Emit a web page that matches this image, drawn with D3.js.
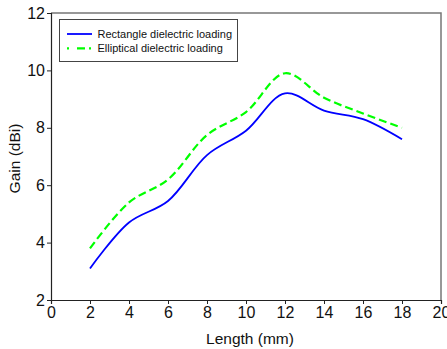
<!DOCTYPE html>
<html>
<head>
<meta charset="utf-8">
<script src="https://cdn.jsdelivr.net/npm/d3@7"></script>
<style>
  body { margin: 0; background: #fff; }
  svg { display: block; font-family: "Liberation Sans", Arial, sans-serif; }
</style>
</head>
<body>
<div id="chart"></div>
<script>
const lengths = [2, 4, 6, 8, 10, 12, 14, 16, 18];
const rectGain = [3.1, 4.7, 5.45, 7.05, 7.9, 9.2, 8.6, 8.3, 7.6];
const ellipGain = [3.8, 5.4, 6.2, 7.75, 8.55, 9.9, 9.05, 8.5, 8.0];
const seriesNames = ["Rectangle dielectric loading", "Elliptical dielectric loading"];
const xTicks = [0, 2, 4, 6, 8, 10, 12, 14, 16, 18, 20];
const yTicks = [2, 4, 6, 8, 10, 12];

const width = 447, height = 349;
const margin = {top: 13, right: 6, bottom: 49, left: 51};

const svg = d3.select("#chart").append("svg")
    .attr("width", width)
    .attr("height", height);

const x = d3.scaleLinear().domain([0, 20]).range([margin.left, width - margin.right]);
const y = d3.scaleLinear().domain([2, 12]).range([height - margin.bottom, margin.top]);

// frame (top + right)
svg.append("path")
    .attr("d", `M${x(0)},${y(12)}H${x(20)}V${y(2)}`)
    .attr("fill", "none")
    .attr("stroke", "#777")
    .attr("stroke-width", 1.5);

// axes
const xAxis = svg.append("g")
    .attr("transform", `translate(0,${y(2)})`)
    .call(d3.axisBottom(x).tickValues(xTicks).tickSize(4).tickPadding(3).tickFormat(d3.format("d")));
const yAxis = svg.append("g")
    .attr("transform", `translate(${x(0)},0)`)
    .call(d3.axisLeft(y).tickValues(yTicks).tickSize(4).tickPadding(2).tickFormat(d3.format("d")));

[xAxis, yAxis].forEach(g => {
  g.select(".domain").attr("stroke", "#222").attr("stroke-width", 1.2);
  g.selectAll(".tick line").attr("stroke", "#222");
  g.selectAll("text").attr("font-size", 16).attr("fill", "#111")
    .attr("font-family", "Liberation Sans, Arial, sans-serif");
});

// axis titles
svg.append("text")
    .attr("x", (x(0) + x(20)) / 2 + 4)
    .attr("y", 344)
    .attr("text-anchor", "middle")
    .attr("font-size", 15.5)
    .attr("fill", "#111")
    .text("Length (mm)");

svg.append("text")
    .attr("transform", `translate(20,${(y(2) + y(12)) / 2 + 2}) rotate(-90)`)
    .attr("text-anchor", "middle")
    .attr("font-size", 15.5)
    .attr("fill", "#111")
    .text("Gain (dBi)");

// lines
const line = d3.line()
    .x((d, i) => x(lengths[i]))
    .y(d => y(d))
    .curve(d3.curveCatmullRom.alpha(0.5));

svg.append("path")
    .datum(rectGain)
    .attr("d", line)
    .attr("fill", "none")
    .attr("stroke", "#0000ff")
    .attr("stroke-width", 1.8);

svg.append("path")
    .datum(ellipGain)
    .attr("d", line)
    .attr("fill", "none")
    .attr("stroke", "#00ff00")
    .attr("stroke-width", 2.2)
    .attr("stroke-dasharray", "8,4");

// legend
const legend = svg.append("g");
legend.append("rect")
    .attr("x", 59.5).attr("y", 19.5)
    .attr("width", 178).attr("height", 42)
    .attr("fill", "#fff")
    .attr("stroke", "#444")
    .attr("stroke-width", 1);

const legendItems = [
  {name: seriesNames[0], color: "#0000ff", dash: null, w: 1.8},
  {name: seriesNames[1], color: "#00ff00", dash: "2,8,8,4", w: 2.2}
];
legendItems.forEach((d, i) => {
  const ly = 34 + i * 14.3;
  legend.append("line")
      .attr("x1", 67).attr("x2", 92)
      .attr("y1", ly).attr("y2", ly)
      .attr("stroke", d.color)
      .attr("stroke-width", d.w)
      .attr("stroke-dasharray", d.dash);
  legend.append("text")
      .attr("x", 97.5).attr("y", ly + 4)
      .attr("font-size", 11)
      .attr("fill", "#111")
      .text(d.name);
});
</script>
</body>
</html>
